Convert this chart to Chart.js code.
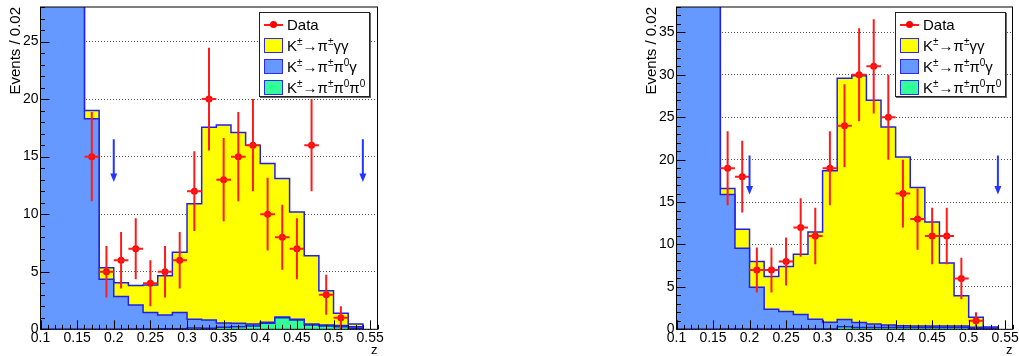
<!DOCTYPE html>
<html>
<head>
<meta charset="utf-8">
<script src="https://cdn.jsdelivr.net/npm/chart.js@4.4.0/dist/chart.umd.min.js"></script>
<style>
  html, body { margin: 0; padding: 0; background: #fff; }
  body { width: 1019px; height: 356px; position: relative; overflow: hidden;
         font-family: 'Liberation Sans', Arial, Helvetica, sans-serif; }
  canvas { position: absolute; top: 0; }
  .legend { position: absolute; background: #fff; border: 1px solid #222;
            box-shadow: 1px 1px 0 #666; box-sizing: border-box; }
  .legend .row { position: absolute; left: 0; right: 0; height: 21px; }
  .legend .box { position: absolute; left: 4px; top: 3px; width: 19px; height: 15px;
                 box-sizing: border-box; border: 1.5px solid #2b2bf0; }
  .legend .line { position: absolute; left: 4px; top: 9.5px; width: 19px; height: 2px; background: #ff1a1a; }
  .legend .dot { position: absolute; left: 10px; top: 7px; width: 7px; height: 7px;
                 border-radius: 50%; background: #ff0000; }
  .legend .txt { position: absolute; left: 27px; top: 0; line-height: 21px; font-size: 15px;
                 white-space: nowrap; color: #000; }
  .legend sup { font-size: 10px; line-height: 0; vertical-align: 6px; }
</style>
</head>
<body>
<canvas id="left" width="390" height="356" style="left:0px"></canvas>
<canvas id="right" width="383" height="356" style="left:636px"></canvas>
<script>
// binning in z (width 0.02), shared by both panels
const binLow = [0.10, 0.12, 0.14, 0.16, 0.18, 0.20, 0.22, 0.24, 0.26, 0.28, 0.30,
                0.32, 0.34, 0.36, 0.38, 0.40, 0.42, 0.44, 0.46, 0.48, 0.50, 0.52];
const binEnd = 0.54;
const binHalf = 0.01;
const dataZ = [0.17, 0.19, 0.21, 0.23, 0.25, 0.27, 0.29, 0.31, 0.33, 0.35,
               0.37, 0.39, 0.41, 0.43, 0.45, 0.47, 0.49, 0.51];

// left panel
const leftData = [15, 5, 6, 7, 4, 5, 6, 12, 20, 13, 15, 16, 10, 8, 7, 16, 3, 1];
const leftErr  = [3.87, 2.24, 2.45, 2.65, 2.0, 2.24, 2.45, 3.46, 4.47, 3.61,
                  3.87, 4.0, 3.16, 2.83, 2.65, 4.0, 1.73, 1.0];
const leftGG     = [0, 0, 0, 0.7, 1.0, 1.21, 1.68, 2.39, 3.4, 5.23, 10.03, 16.75,
                    17.21, 16.58, 15.54, 13.79, 12.04, 9.33, 5.94, 2.97, 1.08, 0.23];
const leftPi0G   = [120, 90, 60, 18.3, 4.35, 2.84, 2.1, 1.43, 1.21, 1.42, 0.75, 0.7,
                    0.37, 0.29, 0.17, 0.09, 0.06, 0.07, 0.08, 0.09, 0.1, 0.12];
const leftPi0Pi0 = [0, 0, 0, 0, 0, 0, 0.02, 0.03, 0.04, 0.05, 0.12, 0.1,
                    0.17, 0.23, 0.29, 0.52, 1.0, 0.8, 0.38, 0.29, 0.22, 0.1];
const leftYMax = 28;
const leftArrowY = [16.5, 12.8];   // arrow top, arrow tip

// right panel
const rightData = [19, 18, 7, 7, 8, 12, 11, 19, 24, 30, 31, 25, 16, 13, 11, 11, 6, 1];
const rightErr  = [4.36, 4.24, 2.65, 2.65, 2.83, 3.46, 3.32, 4.36, 4.9, 5.48,
                   5.57, 5.0, 4.0, 3.61, 3.32, 3.32, 2.45, 1.0];
const rightGG     = [0, 0, 0, 0.7, 2.23, 3.04, 3.86, 5.31, 7.11, 10.28, 17.87, 28.44,
                     29.11, 26.37, 23.36, 19.87, 16.33, 12.24, 7.43, 3.57, 1.18, 0.12];
const rightPi0G   = [150, 110, 70, 15.87, 9.53, 4.92, 2.32, 2.05, 1.71, 1.14, 0.78, 0.85,
                     0.59, 0.43, 0.3, 0.23, 0.2, 0.2, 0.2, 0.18, 0.14, 0.11];
const rightPi0Pi0 = [0, 0, 0, 0.03, 0.04, 0.04, 0.04, 0.04, 0.04, 0.04, 0.05, 0.31,
                     0.2, 0.2, 0.2, 0.2, 0.2, 0.2, 0.2, 0.2, 0.1, 0.05];
const rightYMax = 38;
const rightArrowY = [20.5, 15.9];

// cut positions marked with arrows, x range and tick labels
const cutZ = [0.20, 0.54];
const zRange = [0.10, 0.56];
const zTickLabels = ['0.1', '0.15', '0.2', '0.25', '0.3', '0.35', '0.4', '0.45', '0.5', '0.55'];

const legendLabels = ['Data',
  'K<sup>±</sup>→π<sup>±</sup>γγ',
  'K<sup>±</sup>→π<sup>±</sup>π<sup>0</sup>γ',
  'K<sup>±</sup>→π<sup>±</sup>π<sup>0</sup>π<sup>0</sup>'];

const YELLOW = '#ffff00', BLUE = '#6699ff', GREEN = '#33ff99';
const OUTLINE = '#2020e8', RED = '#ff1a1a', ARROW = '#2236ff';

Chart.defaults.font.family = "'Liberation Sans', Arial, Helvetica, sans-serif";
Chart.defaults.color = '#000';

function histPoints(vals) {
  const edges = binLow.concat([binEnd]);
  return edges.map((x, i) => ({ x, y: i < vals.length ? vals[i] : 0 }));
}

function histSet(label, vals, color, order) {
  return {
    type: 'line', label, data: histPoints(vals), stepped: true,
    fill: 'origin', backgroundColor: color, borderColor: OUTLINE, borderWidth: 1.5,
    pointRadius: 0, order
  };
}

function rootStyle(p) {
  return {
    id: 'rootStyle',
    afterDatasetsDraw(chart) {
      const { ctx, chartArea: a, scales: { x, y } } = chart;
      ctx.save();
      ctx.beginPath();
      ctx.rect(a.left, a.top, a.right - a.left, a.bottom - a.top);
      ctx.clip();
      // error bars of data
      ctx.strokeStyle = RED;
      ctx.lineWidth = 2;
      p.data.forEach((v, i) => {
        const px = x.getPixelForValue(dataZ[i]);
        const py = y.getPixelForValue(v);
        ctx.beginPath();
        ctx.moveTo(px, y.getPixelForValue(v - p.err[i]));
        ctx.lineTo(px, y.getPixelForValue(v + p.err[i]));
        ctx.moveTo(x.getPixelForValue(dataZ[i] - binHalf), py);
        ctx.lineTo(x.getPixelForValue(dataZ[i] + binHalf), py);
        ctx.stroke();
      });
      // cut arrows
      ctx.strokeStyle = ARROW;
      ctx.fillStyle = ARROW;
      cutZ.forEach(z => {
        const px = x.getPixelForValue(z);
        const top = y.getPixelForValue(p.arrowY[0]);
        const tip = y.getPixelForValue(p.arrowY[1]);
        ctx.beginPath();
        ctx.moveTo(px, top);
        ctx.lineTo(px, tip - 7);
        ctx.stroke();
        ctx.beginPath();
        ctx.moveTo(px - 3.5, tip - 8.5);
        ctx.lineTo(px + 3.5, tip - 8.5);
        ctx.lineTo(px, tip);
        ctx.closePath();
        ctx.fill();
      });
      ctx.restore();
    },
    afterDraw(chart) {
      const { ctx, chartArea: a, scales: { x, y } } = chart;
      ctx.save();
      ctx.strokeStyle = '#000';
      ctx.lineWidth = 1;
      ctx.beginPath();
      // ticks inside the frame, ROOT style
      for (let k = 0; ; k++) {
        const v = y.min + k;
        if (v > y.max + 1e-9) break;
        const py = Math.round(y.getPixelForValue(v)) + 0.5;
        const len = k % 5 === 0 ? 9 : 4.5;
        ctx.moveTo(a.left, py);
        ctx.lineTo(a.left + len, py);
      }
      for (let k = 0; ; k++) {
        const v = x.min + k * 0.01;
        if (v > x.max + 1e-9) break;
        const px = Math.round(x.getPixelForValue(v)) + 0.5;
        const len = k % 5 === 0 ? 9 : 4.5;
        ctx.moveTo(px, a.bottom);
        ctx.lineTo(px, a.bottom - len);
      }
      ctx.stroke();
      ctx.strokeRect(a.left, a.top, a.right - a.left, a.bottom - a.top);
      ctx.restore();
    }
  };
}

function makePanel(id, p) {
  const canvas = document.getElementById(id);
  const W = canvas.width;
  return new Chart(canvas.getContext('2d'), {
    data: {
      datasets: [
        histSet(legendLabels[3], p.pi0pi0, GREEN, 1),
        histSet(legendLabels[2], p.pi0g, BLUE, 2),
        histSet(legendLabels[1], p.gg, YELLOW, 3),
        {
          type: 'scatter', label: 'Data',
          data: dataZ.map((z, i) => ({ x: z, y: p.data[i] })),
          pointRadius: 3.5, pointBackgroundColor: '#ff0000', pointBorderWidth: 0,
          showLine: false, order: 0
        }
      ]
    },
    options: {
      responsive: false,
      animation: false,
      events: [],
      layout: { padding: { left: 0, top: 7, right: W - p.frameRight, bottom: 0 } },
      plugins: { legend: { display: false }, tooltip: { enabled: false } },
      scales: {
        x: {
          type: 'linear', min: zRange[0], max: zRange[1],
          grid: { display: false, drawTicks: false },
          border: { display: false },
          ticks: { stepSize: 0.05, includeBounds: false, autoSkip: false, maxRotation: 0,
                   padding: 0, font: { size: 14 },
                   callback: (v, i) => zTickLabels[i] },
          title: { display: true, text: 'z', align: 'end', font: { size: 13 },
                   padding: { top: 0, bottom: -2 } },
          afterFit(s) { s.height = 26.7; s.paddingLeft = 0; s.paddingRight = 0; }
        },
        y: {
          stacked: true, min: 0, max: p.yMax,
          grid: { color: '#555', lineWidth: 1, drawTicks: false },
          border: { display: false, dash: [1, 2] },
          ticks: { stepSize: 5, includeBounds: false, padding: 2, font: { size: 14 } },
          title: { display: true, text: 'Events / 0.02', align: 'end', font: { size: 15 },
                   padding: { top: 6.5, bottom: 0 } },
          afterFit(s) { s.width = p.frameLeft; s.paddingTop = 0; s.paddingBottom = 0; }
        }
      }
    },
    plugins: [rootStyle(p)]
  });
}

function makeLegend(left, top) {
  const fills = [null, YELLOW, BLUE, GREEN];
  const box = document.createElement('div');
  box.className = 'legend';
  Object.assign(box.style, { left: left + 'px', top: top + 'px', width: '111px', height: '85px' });
  legendLabels.forEach((html, i) => {
    const row = document.createElement('div');
    row.className = 'row';
    row.style.top = (1.2 + i * 20.8) + 'px';
    if (fills[i]) {
      row.innerHTML = `<div class="box" style="background:${fills[i]}"></div>`;
    } else {
      row.innerHTML = '<div class="line"></div><div class="dot"></div>';
    }
    row.innerHTML += `<div class="txt">${html}</div>`;
    box.appendChild(row);
  });
  document.body.appendChild(box);
}

makePanel('left', {
  data: leftData, err: leftErr, gg: leftGG, pi0g: leftPi0G, pi0pi0: leftPi0Pi0,
  yMax: leftYMax, arrowY: leftArrowY, frameLeft: 40.5, frameRight: 377.5
});
makePanel('right', {
  data: rightData, err: rightErr, gg: rightGG, pi0g: rightPi0G, pi0pi0: rightPi0Pi0,
  yMax: rightYMax, arrowY: rightArrowY, frameLeft: 40.5, frameRight: 376.5
});
makeLegend(259, 12);
makeLegend(895, 12);
</script>
</body>
</html>
